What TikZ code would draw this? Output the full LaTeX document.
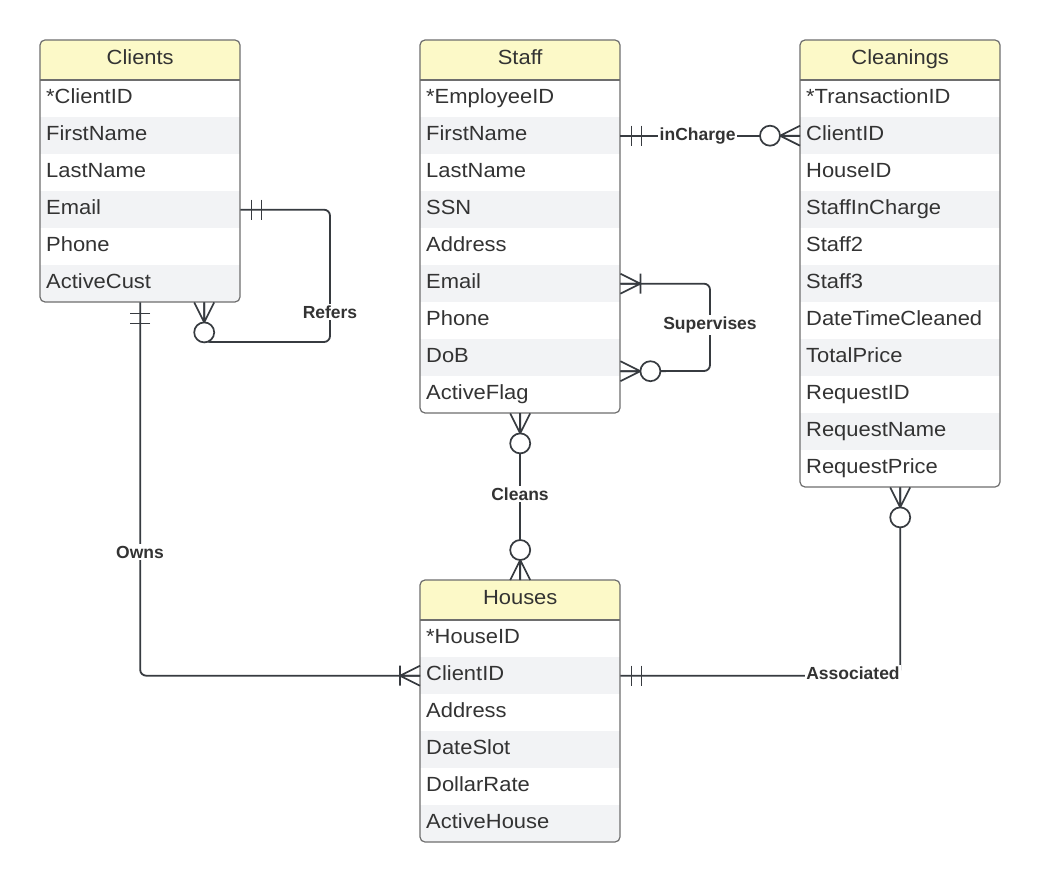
\documentclass[tikz,border=0pt]{standalone}
\usepackage{fontspec}
\setmainfont{Liberation Sans}
\newfontfamily\fieldfont{Liberation Sans}[FakeStretch=1.07]
\usetikzlibrary{calc}

\definecolor{hdrfill}{RGB}{252,249,200}
\definecolor{rowgray}{RGB}{242,243,245}
\definecolor{framegray}{RGB}{110,110,110}
\definecolor{txt}{RGB}{51,51,51}
\definecolor{linecol}{RGB}{55,59,64}

\tikzset{
  hdr/.style={minimum width=200pt, minimum height=40pt, inner sep=0pt, anchor=north west,
    fill=hdrfill, text=txt, font=\fieldfont\fontsize{20.5}{22}\selectfont,
    text height=15pt, text depth=7pt},
  fieldrow/.style={minimum height=37pt, text width=188pt, inner xsep=6pt, inner ysep=0pt,
    anchor=north west, align=left, text=txt, font=\fieldfont\fontsize{20.5}{22}\selectfont,
    text height=14pt, text depth=4pt},
  frame/.style={draw=framegray, line width=1.2pt},
  conn/.style={draw=linecol, line width=1.8pt},
  endmark/.style={draw=linecol, line width=1.7pt},
  rel/.style={fill=white, text=txt, inner sep=1.5pt, font=\bfseries\fontsize{17.5}{19}\selectfont},
}

% entity table: name, x, y (top), number of fields, title, fields
\newcommand\ertable[6]{%
  \begin{scope}
    \clip[rounded corners=5pt] (#2,#3) rectangle ++(200,{40+37*#4});
    \node[hdr] (#1-h) at (#2,#3) {#5};
    \foreach \f [count=\i] in {#6} {
      \ifodd\i\relax\def\rowfill{white}\else\def\rowfill{rowgray}\fi
      \node[fieldrow, fill=\rowfill] (#1-\i) at (#2,{#3+40+37*(\i-1)}) {\f};
    }
  \end{scope}
  \draw[frame, rounded corners=5pt] (#2,#3) rectangle ++(200,{40+37*#4});
  \draw[frame] (#2,#3+40) -- ++(200,0);
}

% relationship ends: point on the box edge, direction pointing away from the box
\newcommand\markzeromany[2]{%
  \begin{scope}[shift={(#1)}, rotate=#2]
    \draw[endmark] (0,-10) -- (20,0) -- (0,10) (0,0) -- (20,0);
    \draw[endmark, fill=white] (30,0) circle[radius=10pt];
  \end{scope}}
\newcommand\markonemany[2]{%
  \begin{scope}[shift={(#1)}, rotate=#2]
    \draw[endmark] (0,-10) -- (20,0) -- (0,10) (0,0) -- (20,0) (20,-10) -- (20,10);
  \end{scope}}
\newcommand\markoneonly[2]{%
  \begin{scope}[shift={(#1)}, rotate=#2]
    \draw[endmark] (11,-10) -- (11,10) (21,-10) -- (21,10);
  \end{scope}}

\begin{document}
\begin{tikzpicture}[x=1pt, y=-1pt]
  \useasboundingbox[fill=white] (0,0) rectangle (1040,882);

  \ertable{clients}{40}{40}{6}{Clients}{*ClientID,FirstName,LastName,Email,Phone,ActiveCust}
  \ertable{staff}{420}{40}{9}{Staff}{*EmployeeID,FirstName,LastName,SSN,Address,Email,Phone,DoB,ActiveFlag}
  \ertable{cleanings}{800}{40}{11}{Cleanings}{*TransactionID,ClientID,HouseID,StaffInCharge,Staff2,Staff3,DateTimeCleaned,TotalPrice,RequestID,RequestName,RequestPrice}
  \ertable{houses}{420}{580}{6}{Houses}{*HouseID,ClientID,Address,DateSlot,DollarRate,ActiveHouse}

  % anchor points for the bent connectors
  \coordinate (refers-turn) at (330,342);
  \coordinate (clients-self) at ($(clients-6.south)+(64,0)$);
  \coordinate (sup-turn) at (710,371);
  \coordinate (staff-sup) at ($(staff-8.east)+(0,13.5)$);

  % connector lines
  \draw[conn, rounded corners=6pt] (clients-4.east) -| (refers-turn) -| (clients-self);
  \draw[conn] (staff-2.east) -- (cleanings-2.west);
  \draw[conn, rounded corners=6pt] (staff-6.east) -| (sup-turn) -- (staff-sup);
  \draw[conn] (staff-9.south) -- (houses-h.north);
  \draw[conn, rounded corners=6pt] (clients-6.south) |- (houses-2.west);
  \draw[conn, rounded corners=6pt] (cleanings-11.south) |- (houses-2.east);

  % cardinality marks
  \markoneonly{clients-4.east}{0}
  \markzeromany{clients-self}{-90}
  \markoneonly{staff-2.east}{0}
  \markzeromany{cleanings-2.west}{180}
  \markonemany{staff-6.east}{0}
  \markzeromany{staff-sup}{0}
  \markzeromany{staff-9.south}{-90}
  \markzeromany{houses-h.north}{90}
  \markoneonly{clients-6.south}{-90}
  \markonemany{houses-2.west}{180}
  \markzeromany{cleanings-11.south}{-90}
  \markoneonly{houses-2.east}{0}

  % relationship names
  \node[rel] (refers) at (330,312) {Refers};
  \node[rel] (incharge) at ($(staff-2.east)!0.43!(cleanings-2.west)$) {inCharge};
  \node[rel] (supervises) at (710,325) {Supervises};
  \node[rel] (cleans) at (520,494) {Cleans};
  \node[rel] (owns) at (140,552) {Owns};
  \node[rel] (associated) at (853,673) {Associated};
\end{tikzpicture}
\end{document}
